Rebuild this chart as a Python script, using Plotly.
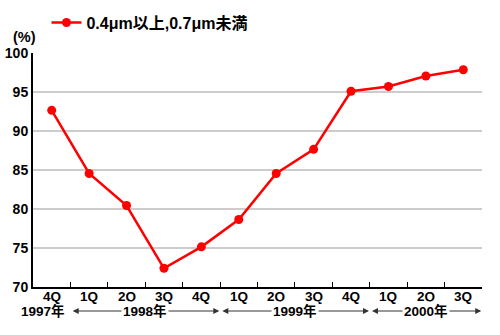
import plotly.graph_objects as go

# Quarterly ratio (%) of particles 0.4µm–0.7µm
quarters = ["4Q", "1Q", "2Q", "3Q", "4Q", "1Q", "2Q", "3Q", "4Q", "1Q", "2Q", "3Q"]
values = [92.65, 84.55, 80.45, 72.4, 75.15, 78.65, 84.55, 87.65, 95.1, 95.7, 97.05, 97.85]
series_name = "0.4μm以上,0.7μm未満"

# Year groups: (label, first quarter index, last quarter index)
year_groups = [("1998年", 1, 4), ("1999年", 5, 8), ("2000年", 9, 11)]
first_year = "1997年"

FONT = "Liberation Sans, Arial, Noto Sans CJK JP, sans-serif"
x_idx = list(range(len(quarters)))
PLOT_H = 234
QUARTER_Y = -9 / PLOT_H
YEAR_Y = -24 / PLOT_H

fig = go.Figure()
fig.add_trace(go.Scatter(
    x=x_idx, y=values, name=series_name, mode="lines+markers",
    line=dict(color="#ff0000", width=2.5),
    marker=dict(color="#ff0000", size=9),
))

annotations = [
    dict(text="<b>(%)</b>", xref="paper", yref="paper", x=-0.02, y=1.07,
         xanchor="center", yanchor="middle", showarrow=False,
         font=dict(size=14.5, color="#000", family=FONT)),
    dict(text="<b>" + first_year + "</b>", xref="x", yref="paper", x=0.41, y=YEAR_Y,
         xanchor="right", yanchor="middle", showarrow=False,
         font=dict(size=13.5, color="#000", family=FONT)),
]
# quarter labels under each category
for i, q in zip(x_idx, quarters):
    annotations.append(dict(
        text="<b>" + q + "</b>", xref="x", yref="paper", x=i, y=QUARTER_Y,
        xanchor="center", yanchor="middle", showarrow=False,
        font=dict(size=13.5, color="#000", family=FONT)))
# double-headed arrows spanning each year
for label, a, b in year_groups:
    annotations.append(dict(
        text="", xref="x", yref="paper", x=b + 0.48, y=YEAR_Y,
        ax=a - 0.48, ay=0, axref="x", ayref="pixel",
        showarrow=True, arrowside="end+start", arrowhead=2, arrowsize=1,
        arrowwidth=1.2, arrowcolor="#333333", standoff=0, startstandoff=0,
    ))
for label, a, b in year_groups:
    annotations.append(dict(
        text="<b>" + label + "</b>", xref="x", yref="paper", x=(a + b) / 2, y=YEAR_Y,
        xanchor="center", yanchor="middle", showarrow=False, bgcolor="#ffffff",
        borderpad=1, font=dict(size=13.5, color="#000", family=FONT)))

fig.update_layout(
    width=500, height=335,
    margin=dict(l=33, r=18, t=53, b=48, autoexpand=False),
    paper_bgcolor="#ffffff", plot_bgcolor="#ffffff",
    font=dict(family=FONT, color="#000"),
    showlegend=True,
    legend=dict(orientation="h", x=0.03, xanchor="left", y=1.13, yanchor="middle",
                font=dict(size=16, color="#000", family=FONT, weight="bold"),
                bgcolor="rgba(0,0,0,0)"),
    annotations=annotations,
    xaxis=dict(
        range=[-0.5, 11.5], tickmode="array", tickvals=[i + 0.5 for i in x_idx],
        showticklabels=False, ticks="inside", ticklen=5, tickcolor="#000", tickwidth=1,
        showgrid=False, zeroline=False,
        showline=True, linecolor="#000", linewidth=2,
    ),
    yaxis=dict(
        range=[70, 100], dtick=5, ticks="", showgrid=True,
        gridcolor="#cccccc", gridwidth=1.5, zeroline=False,
        showline=True, linecolor="#000", linewidth=2,
        tickfont=dict(size=14, color="#000", family=FONT, weight="bold"),
    ),
)

fig.write_html("out.html")
